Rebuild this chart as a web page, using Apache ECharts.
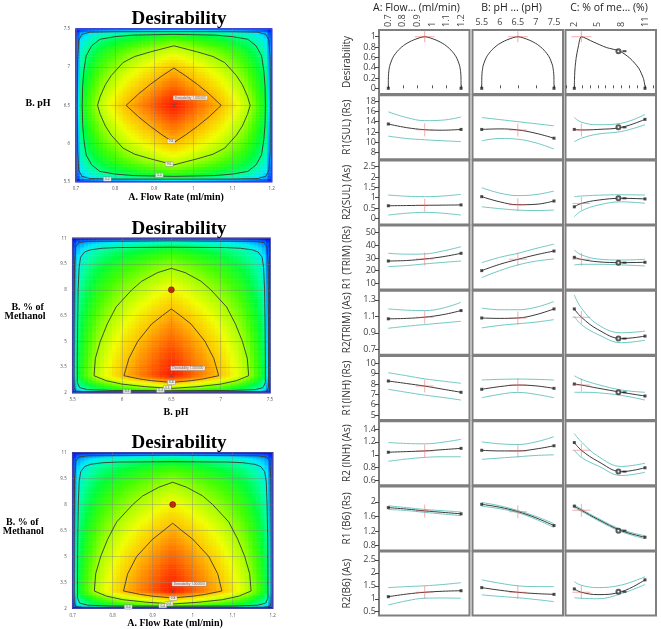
<!DOCTYPE html>
<html><head><meta charset="utf-8">
<script src="https://cdn.jsdelivr.net/npm/echarts@6/dist/echarts.min.js"></script>
<style>html,body{margin:0;padding:0;background:#fff}#c{width:661px;height:629px}</style>
</head><body><div id="c"></div>
<script>
// ================= DATA =================
// --- contour panels: sampled desirability profiles (cell centres) ---
const flowCells = [0.705,0.715,0.725,0.735,0.745,0.755,0.765,0.775,0.785,0.795,0.805,0.815,0.825,0.835,0.845,0.855,0.865,0.875,0.885,0.895,0.905,0.915,0.925,0.935,0.945,0.955,0.965,0.975,0.985,0.995,1.005,1.015,1.025,1.035,1.045,1.055,1.065,1.075,1.085,1.095,1.105,1.115,1.125,1.135,1.145,1.155,1.165,1.175,1.185,1.195];
const flowD = [0.20,0.39,0.46,0.515,0.56,0.60,0.64,0.67,0.70,0.72,0.75,0.77,0.795,0.815,0.835,0.85,0.87,0.89,0.90,0.92,0.94,0.95,0.97,0.98,0.995,0.995,0.98,0.97,0.95,0.94,0.92,0.90,0.89,0.87,0.85,0.835,0.815,0.795,0.77,0.75,0.72,0.70,0.67,0.64,0.60,0.56,0.515,0.46,0.39,0.20];
const phCells = [5.52,5.56,5.60,5.64,5.68,5.72,5.76,5.80,5.84,5.88,5.92,5.96,6.00,6.04,6.08,6.12,6.16,6.20,6.24,6.28,6.32,6.36,6.40,6.44,6.48,6.52,6.56,6.60,6.64,6.68,6.72,6.76,6.80,6.84,6.88,6.92,6.96,7.00,7.04,7.08,7.12,7.16,7.20,7.24,7.28,7.32,7.36,7.40,7.44,7.48];
const phD = [0.20,0.39,0.46,0.515,0.56,0.60,0.64,0.67,0.70,0.72,0.75,0.77,0.795,0.815,0.835,0.85,0.87,0.89,0.90,0.92,0.94,0.95,0.97,0.98,0.995,0.995,0.98,0.97,0.95,0.94,0.92,0.90,0.89,0.87,0.85,0.835,0.815,0.795,0.77,0.75,0.72,0.70,0.67,0.64,0.60,0.56,0.515,0.46,0.39,0.20];
const methCells = [2.05,2.15,2.25,2.35,2.45,2.55,2.65,2.75,2.85,2.95,3.05,3.15,3.25,3.35,3.45,3.55,3.65,3.75,3.85,3.95,4.05,4.15,4.25,4.35,4.45,4.55,4.65,4.75,4.85,4.95,5.05,5.15,5.25,5.35,5.45,5.55,5.65,5.75,5.85,5.95,6.05,6.15,6.25,6.35,6.45,6.55,6.65,6.75,6.85,6.95,7.05,7.15,7.25,7.35,7.45,7.55,7.65,7.75,7.85,7.95,8.05,8.15,8.25,8.35,8.45,8.55,8.65,8.75,8.85,8.95,9.05,9.15,9.25,9.35,9.45,9.55,9.65,9.75,9.85,9.95,10.05,10.15,10.25,10.35,10.45,10.55,10.65,10.75,10.85,10.95];
const methD = [0.15,0.48,0.60,0.665,0.73,0.78,0.83,0.885,0.935,0.98,
 0.998,0.995,0.992,0.988,0.985,0.981,0.977,0.974,0.970,0.966,
 0.962,0.957,0.953,0.948,0.944,0.939,0.934,0.929,0.924,0.919,
 0.914,0.909,0.903,0.898,0.892,0.886,0.880,0.874,0.868,0.862,
 0.856,0.850,0.843,0.837,0.830,0.823,0.816,0.809,0.802,0.795,
 0.787,0.780,0.772,0.765,0.757,0.749,0.741,0.733,0.725,0.717,
 0.709,0.700,0.692,0.683,0.674,0.665,0.656,0.647,0.638,0.629,
 0.619,0.610,0.600,0.588,0.576,0.563,0.550,0.536,0.522,0.508,
 0.492,0.473,0.452,0.428,0.404,0.37,0.33,0.27,0.20,0.09];

// contour lines (levels 0.8, 0.6, 0.4, 0.2)
const c1_08 = [[0.828,6.5],[0.86,6.65],[0.89,6.775],[0.92,6.887],[0.95,6.988],[0.98,6.887],[1.01,6.775],[1.04,6.65],[1.071,6.5],[1.04,6.35],[1.01,6.225],[0.98,6.113],[0.95,6.012],[0.92,6.113],[0.89,6.225],[0.86,6.35],[0.828,6.5]];
const c1_06 = [[0.755,6.5],[0.762,6.62],[0.775,6.77],[0.79,6.89],[0.82,7.06],[0.85,7.14],[0.89,7.2],[0.95,7.28],[1.01,7.2],[1.05,7.14],[1.08,7.06],[1.11,6.89],[1.125,6.77],[1.138,6.62],[1.145,6.5],[1.138,6.38],[1.125,6.23],[1.11,6.11],[1.08,5.94],[1.05,5.86],[1.01,5.8],[0.95,5.72],[0.89,5.8],[0.85,5.86],[0.82,5.94],[0.79,6.11],[0.775,6.23],[0.762,6.38],[0.755,6.5]];
const c1_04 = [[0.716,6.5],[0.717,6.75],[0.72,6.95],[0.726,7.15],[0.74,7.28],[0.761,7.365],[0.8,7.40],[0.846,7.42],[0.95,7.43],[1.054,7.42],[1.1,7.40],[1.139,7.365],[1.16,7.28],[1.174,7.15],[1.18,6.95],[1.183,6.75],[1.184,6.5],[1.183,6.25],[1.18,6.05],[1.174,5.85],[1.16,5.72],[1.139,5.635],[1.1,5.60],[1.054,5.58],[0.95,5.57],[0.846,5.58],[0.8,5.60],[0.761,5.635],[0.74,5.72],[0.726,5.85],[0.72,6.05],[0.717,6.25],[0.716,6.5]];
const c1_02 = [[0.7035,6.5],[0.704,7.1],[0.707,7.35],[0.715,7.43],[0.735,7.458],[0.8,7.465],[0.95,7.467],[1.1,7.465],[1.165,7.458],[1.185,7.43],[1.193,7.35],[1.196,7.1],[1.1965,6.5],[1.196,5.9],[1.193,5.65],[1.185,5.57],[1.165,5.542],[1.1,5.535],[0.95,5.533],[0.8,5.535],[0.735,5.542],[0.715,5.57],[0.707,5.65],[0.704,5.9],[0.7035,6.5]];
const c2_08 = [[6.02,2.99],[6.07,4.0],[6.16,5.0],[6.3,6.0],[6.41,6.5],[6.5,6.88],[6.59,6.5],[6.7,6.0],[6.84,5.0],[6.93,4.0],[6.98,2.99],[6.82,2.8],[6.7,2.7],[6.5,2.6],[6.3,2.7],[6.18,2.8],[6.02,2.99]];
const c2_06 = [[5.716,2.99],[5.73,4.0],[5.78,5.0],[5.85,6.0],[5.94,7.0],[6.1,8.0],[6.2,8.5],[6.36,9.0],[6.5,9.25],[6.64,9.0],[6.8,8.5],[6.9,8.0],[7.06,7.0],[7.15,6.0],[7.22,5.0],[7.27,4.0],[7.284,2.99],[7.16,2.7],[7.0,2.5],[6.76,2.35],[6.5,2.25],[6.24,2.35],[6.0,2.5],[5.84,2.7],[5.716,2.99]];
const c2_04 = [[5.547,2.6],[5.547,4.0],[5.55,6.0],[5.555,8.0],[5.565,9.3],[5.58,9.9],[5.62,10.2],[5.68,10.33],[5.8,10.42],[5.95,10.46],[6.5,10.48],[7.05,10.46],[7.2,10.42],[7.32,10.33],[7.38,10.2],[7.42,9.9],[7.435,9.3],[7.445,8.0],[7.45,6.0],[7.453,4.0],[7.453,2.6],[7.43,2.3],[7.35,2.18],[7.1,2.13],[6.5,2.12],[5.9,2.13],[5.65,2.18],[5.57,2.3],[5.547,2.6]];
const c2_02 = [[5.515,2.3],[5.515,6.0],[5.518,9.5],[5.53,10.5],[5.56,10.75],[5.65,10.82],[6.5,10.85],[7.35,10.82],[7.44,10.75],[7.47,10.5],[7.482,9.5],[7.485,6.0],[7.485,2.3],[7.47,2.1],[7.4,2.06],[6.5,2.05],[5.6,2.06],[5.53,2.1],[5.515,2.3]];
const c3_08 = [[0.827,3.0],[0.8375,4.0],[0.86,5.0],[0.9,6.0],[0.9275,6.5],[0.95,6.92],[0.9725,6.5],[1.0,6.0],[1.04,5.0],[1.0625,4.0],[1.073,3.0],[1.03,2.8],[1.0,2.7],[0.95,2.6],[0.9,2.7],[0.87,2.8],[0.827,3.0]];
const c3_06 = [[0.754,3.0],[0.7575,4.0],[0.77,5.0],[0.7875,6.0],[0.81,7.0],[0.85,8.0],[0.875,8.5],[0.915,9.0],[0.95,9.29],[0.985,9.0],[1.025,8.5],[1.05,8.0],[1.09,7.0],[1.1125,6.0],[1.13,5.0],[1.1425,4.0],[1.146,3.0],[1.115,2.7],[1.075,2.5],[1.015,2.35],[0.95,2.25],[0.885,2.35],[0.825,2.5],[0.785,2.7],[0.754,3.0]];
const c3_04 = [[0.712,2.6],[0.712,4.0],[0.7125,6.0],[0.714,8.0],[0.716,9.3],[0.72,9.9],[0.73,10.2],[0.745,10.33],[0.775,10.42],[0.8125,10.46],[0.95,10.48],[1.0875,10.46],[1.125,10.42],[1.155,10.33],[1.17,10.2],[1.18,9.9],[1.184,9.3],[1.186,8.0],[1.1875,6.0],[1.188,4.0],[1.188,2.6],[1.1825,2.3],[1.1625,2.18],[1.1,2.13],[0.95,2.12],[0.8,2.13],[0.7375,2.18],[0.7175,2.3],[0.712,2.6]];
const c3_02 = [[0.704,2.3],[0.704,6.0],[0.7045,9.5],[0.7075,10.5],[0.715,10.75],[0.7375,10.82],[0.95,10.85],[1.1625,10.82],[1.185,10.75],[1.1925,10.5],[1.1955,9.5],[1.196,6.0],[1.196,2.3],[1.1925,2.1],[1.175,2.06],[0.95,2.05],[0.725,2.06],[0.7075,2.1],[0.704,2.3]];

const p1Labels = [[0.943,6.03,'0.8'],[0.938,5.73,'0.6'],[0.913,5.585,'0.4'],[0.78,5.535,'0.2']];
const p2Labels = [[6.5,2.6,'0.8'],[6.46,2.29,'0.6'],[6.39,2.14,'0.4'],[6.05,2.07,'0.2']];
const p3Labels = [[0.951,2.58,'0.8'],[0.941,2.27,'0.6'],[0.925,2.15,'0.4'],[0.839,2.08,'0.2']];
const p1Peak = [0.95,6.5], p2Peak = [6.5,2.99], p3Peak = [0.95,2.97];
const p2Red = [6.5,8.0], p3Red = [0.95,8.0];
const peakText = 'Desirability 1.000000';

const flowTicks = [0.7,1.2,0.1], phTicks = [5.5,7.5,0.5], methTicks = [2,11,1.5];

// --- prediction profiler ---
const colHeaders = ['A: Flow... (ml/min)','B: pH ... (pH)','C: % of me... (%)'];
const rowNames = ['Desirability','R1(SUL) (Rs)','R2(SUL) (As)','R1 (TRIM) (Rs)','R2(TRIM) (As)','R1(INH) (Rs)','R2 (INH) (As)','R1 (B6) (Rs)','R2(B6) (As)'];
const xTickA = [0.7,0.8,0.9,1,1.1,1.2];
const xTickB = [5.5,6,6.5,7,7.5];
const xTickC = [1,2,3,4,5,6,7,8,9,10,11,12];
const xLabelC = [2,5,8,11];
const current = [0.95, 6.5, 2.9];
const colX = [[0.7,0.825,0.95,1.075,1.2],[5.5,6.0,6.5,7.0,7.5],[2,2.9,5,8,11]];

const desA = [[0.7,0],[0.7005,0.2],[0.703,0.32],[0.711,0.45],[0.734,0.61],[0.769,0.74],[0.815,0.85],[0.872,0.935],[0.95,1.0],[1.028,0.935],[1.085,0.85],[1.131,0.74],[1.166,0.61],[1.189,0.45],[1.197,0.32],[1.1995,0.2],[1.2,0]];
const desB = [[5.5,0],[5.502,0.2],[5.512,0.32],[5.544,0.45],[5.636,0.61],[5.776,0.74],[5.96,0.85],[6.188,0.935],[6.5,1],[6.812,0.935],[7.04,0.85],[7.224,0.74],[7.364,0.61],[7.456,0.45],[7.488,0.32],[7.498,0.2],[7.5,0]];
const desC = [[2,0],[2.03,0.2],[2.1,0.4],[2.25,0.6],[2.5,0.8],[2.9,1.0],[4.4,0.9],[6.1,0.79],[7.8,0.72],[9.1,0.58],[10.2,0.39],[10.8,0.19],[10.95,0.08],[11,0]];
const desMarkC = 0.72;

const r1sulFit = [[13.55,12.85,12.45,12.35,12.5],[12.5,12.6,12.4,11.75,10.8],[12.5,12.4,12.5,12.9,14.45]];
const r1sulHi  = [[15.9,14.8,14.2,14.3,14.9],[14.8,14.4,14.0,13.6,13.2],[14.8,13.9,13.4,13.7,15.4]];
const r1sulLo  = [[11.2,10.75,10.5,10.3,10.15],[10.3,10.75,10.6,9.9,8.7],[10.1,10.8,11.6,12.1,13.4]];
const r2sulFit = [[0.61,0.62,0.63,0.64,0.65],[1.05,0.8,0.66,0.68,0.84],[0.56,0.72,0.88,0.97,0.94]];
const r2sulHi  = [[1.13,1.07,1.05,1.08,1.16],[1.48,1.22,1.1,1.15,1.32],[1.05,1.08,1.12,1.14,1.13]];
const r2sulLo  = [[0.16,0.25,0.29,0.25,0.16],[0.56,0.47,0.4,0.38,0.4],[0.08,0.36,0.64,0.8,0.73]];
const r1trimFit = [[27.6,28.0,29.2,31.0,33.7],[20.0,25.0,28.9,32.5,35.5],[30.5,28.9,27.0,26.3,26.6]];
const r1trimHi  = [[33.7,33.0,33.2,35.5,38.9],[26.3,30.5,33.7,37.5,41.0],[36.3,32.5,29.2,28.4,28.9]];
const r1trimLo  = [[23.2,24.0,25.3,26.5,27.6],[14.5,20.0,24.5,27.5,29.2],[24.5,25.0,25.0,24.5,23.7]];
const r2trimFit = [[1.07,1.075,1.09,1.12,1.17],[1.08,1.075,1.08,1.12,1.19],[1.19,1.09,0.94,0.83,0.86]];
const r2trimHi  = [[1.19,1.175,1.17,1.2,1.27],[1.2,1.18,1.18,1.21,1.28],[1.36,1.2,1.0,0.9,0.92]];
const r2trimLo  = [[0.955,0.98,1.0,1.02,1.04],[0.96,0.99,1.01,1.03,1.06],[1.1,1.0,0.88,0.78,0.81]];
const r1inhFit = [[8.29,8.05,7.8,7.5,7.2],[7.49,7.75,7.9,7.82,7.58],[8.0,7.9,7.6,7.2,6.84]];
const r1inhHi  = [[9.1,8.8,8.5,8.28,8.07],[8.39,8.45,8.48,8.45,8.39],[8.8,8.45,7.95,7.42,7.2]];
const r1inhLo  = [[7.49,7.2,6.93,6.7,6.45],[6.67,7.0,7.19,7.0,6.67],[7.2,7.2,7.15,6.9,6.45]];
const r2inhFit = [[1.04,1.05,1.06,1.08,1.1],[1.07,1.06,1.06,1.09,1.14],[1.19,1.07,0.9,0.74,0.8]];
const r2inhHi  = [[1.19,1.175,1.17,1.195,1.24],[1.2,1.17,1.16,1.2,1.28],[1.33,1.2,0.98,0.82,0.87]];
const r2inhLo  = [[0.9,0.935,0.96,0.97,0.97],[0.93,0.95,0.97,0.99,1.0],[1.07,0.96,0.83,0.68,0.73]];
const r1b6Fit = [[1.84,1.8,1.75,1.71,1.67],[1.93,1.85,1.73,1.56,1.35],[1.88,1.77,1.52,1.21,1.03]];
const r1b6Hi  = [[1.89,1.84,1.79,1.755,1.72],[1.98,1.89,1.76,1.6,1.4],[1.92,1.8,1.55,1.24,1.07]];
const r1b6Lo  = [[1.79,1.76,1.71,1.665,1.62],[1.88,1.81,1.7,1.52,1.3],[1.84,1.74,1.49,1.18,0.99]];
const r2b6Fit = [[1.08,1.18,1.25,1.29,1.31],[1.43,1.33,1.25,1.2,1.17],[1.38,1.25,1.16,1.27,1.73]];
const r2b6Hi  = [[1.43,1.47,1.5,1.55,1.62],[1.73,1.6,1.5,1.47,1.47],[1.66,1.52,1.43,1.53,1.85]];
const r2b6Lo  = [[0.76,0.92,1.02,1.03,1.02],[1.15,1.09,1.04,0.97,0.89],[1.04,1.02,1.0,1.2,1.55]];

const yTicks = [[0,0.2,0.4,0.6,0.8,1],[8,10,12,14,16,18],[0,0.5,1,1.5,2,2.5],[10,20,30,40,50],[0.7,0.9,1.1,1.3],[5,6,7,8,9,10],[0.6,0.8,1,1.2,1.4],[0.8,1.2,1.6,2],[0.5,1,1.5,2,2.5]];

// ================= LAYOUT / STYLE =================
const yRange = [[-0.11,1.13],[6.74,19.12],[-0.29,2.80],[5.0,55.6],[0.633,1.41],[4.52,10.71],[0.53,1.52],[0.67,2.42],[0.35,2.82]];
const xRange = [[0.636,1.258],[5.245,7.749],[0.88,12.4]];
const profLeft = [379, 472.5, 565.5], profW = 90.5, profTop0 = 30, profPitch = 65.2, profH = 64;
const CYAN = '#72c9c4', BLACK = '#3a3a3a', CROSS = 'rgba(238,85,85,0.6)';
const serifFont = 'Liberation Serif', sansFont = 'Open Sans';
const heatColors = ['#0000f0','#0070ff','#00e8ff','#00ffa0','#00ff38','#40ff00','#a0ff00','#f0ff00','#ffc000','#ff7000','#ff1800'];

const grid = [], xAxis = [], yAxis = [], series = [], graphic = [];
const heatIdx = [];
const fmt = v => String(Math.round(v * 1000) / 1000);

// ---------- contour panels ----------
const panels = [
  {box:[76,29,195.7,152.7], xc:flowCells, yc:phCells, xd:flowD, yd:phD, xt:flowTicks, yt:phTicks, cont:[c1_08,c1_06,c1_04,c1_02], labels:p1Labels, peak:p1Peak, red:null},
  {box:[72.7,238.3,197.3,154.4], xc:phCells, yc:methCells, xd:phD, yd:methD, xt:phTicks, yt:methTicks, cont:[c2_08,c2_06,c2_04,c2_02], labels:p2Labels, peak:p2Peak, red:p2Red},
  {box:[72.7,452.7,200,155.6], xc:flowCells, yc:methCells, xd:flowD, yd:methD, xt:flowTicks, yt:methTicks, cont:[c3_08,c3_06,c3_04,c3_02], labels:p3Labels, peak:p3Peak, red:p3Red}
];
panels.forEach(p => {
  const gi = grid.length;
  grid.push({left:p.box[0], top:p.box[1], width:p.box[2], height:p.box[3], show:true, borderColor:'#1616c8', borderWidth:1.5, backgroundColor:'transparent'});
  const xc = xAxis.length;
  xAxis.push({type:'category', gridIndex:gi, position:'top', data:p.xc.map(String), show:false});
  const xv = xAxis.length;
  xAxis.push({type:'value', gridIndex:gi, position:'bottom', min:p.xt[0], max:p.xt[1], interval:p.xt[2], z:3,
    axisLine:{show:false}, axisTick:{show:false},
    splitLine:{show:true, lineStyle:{color:'rgba(130,130,130,0.5)', width:0.8}},
    axisLabel:{fontSize:4.5, color:'#555', margin:5, formatter:fmt}});
  const yc = yAxis.length;
  yAxis.push({type:'category', gridIndex:gi, position:'right', data:p.yc.map(String), show:false});
  const yv = yAxis.length;
  yAxis.push({type:'value', gridIndex:gi, position:'left', min:p.yt[0], max:p.yt[1], interval:p.yt[2], z:3,
    axisLine:{show:false}, axisTick:{show:false},
    splitLine:{show:true, lineStyle:{color:'rgba(130,130,130,0.5)', width:0.8}},
    axisLabel:{fontSize:4.5, color:'#555', margin:6, formatter:fmt}});
  const cells = [];
  for (let i = 0; i < p.xd.length; i++) for (let j = 0; j < p.yd.length; j++) cells.push([i, j, p.xd[i] * p.yd[j]]);
  heatIdx.push(series.length);
  series.push({type:'heatmap', xAxisIndex:xc, yAxisIndex:yc, data:cells, z:-1, progressive:0, silent:true, emphasis:{disabled:true}});
  p.cont.forEach(c => series.push({type:'line', xAxisIndex:xv, yAxisIndex:yv, data:c, symbol:'none', silent:true, z:4,
    lineStyle:{color:'#3b3b2c', width:0.9}}));
  series.push({type:'scatter', xAxisIndex:xv, yAxisIndex:yv, z:6, silent:true, symbolSize:1, itemStyle:{color:'rgba(0,0,0,0)'},
    data:p.labels.map(l => ({value:[l[0], l[1]], label:{formatter:l[2]}})),
    label:{show:true, position:'inside', fontSize:3.2, color:'#333', backgroundColor:'#fff', borderColor:'#888', borderWidth:0.5, padding:[0.5,1.5]}});
  series.push({type:'scatter', xAxisIndex:xv, yAxisIndex:yv, z:6, silent:true, symbol:'circle', symbolSize:3,
    itemStyle:{color:'#6a5050'}, data:[p.peak],
    label:{show:true, formatter:peakText, position:[1,-8], fontSize:3.2, color:'#333', backgroundColor:'#fff', borderColor:'#888', borderWidth:0.5, padding:[0.5,1.5]}});
  if (p.red) series.push({type:'scatter', xAxisIndex:xv, yAxisIndex:yv, z:6, silent:true, symbol:'circle', symbolSize:6,
    itemStyle:{color:'#b30000', borderColor:'#5a0000', borderWidth:0.6}, data:[p.red]});
});

// titles and axis names of contour panels
function txt(x, y, t, size, weight, family, color, align) {
  graphic.push({type:'text', x:x, y:y, silent:true, style:{text:t, fontSize:size, fontWeight:weight, fontFamily:family,
    fill:color || '#000', align:align || 'center', textAlign:align || 'center', verticalAlign:'middle', textVerticalAlign:'middle'}});
}
[19, 229, 443].forEach(y => txt(179, y, 'Desirability', 19, 'bold', serifFont));
txt(38, 103, 'B. pH', 10, 'bold', serifFont);
txt(176, 197, 'A. Flow Rate (ml/min)', 10, 'bold', serifFont);
txt(27.7, 307.7, 'B. % of', 10, 'bold', serifFont);
txt(25, 316.7, 'Methanol', 10, 'bold', serifFont);
txt(176, 412, 'B. pH', 10, 'bold', serifFont);
txt(22.3, 522.7, 'B. % of', 10, 'bold', serifFont);
txt(23.3, 531.7, 'Methanol', 10, 'bold', serifFont);
txt(175, 623, 'A. Flow Rate (ml/min)', 10, 'bold', serifFont);

// ---------- prediction profiler ----------
txt(416.5, 8, colHeaders[0], 10.5, 'normal', sansFont, '#222');
txt(511.5, 8, colHeaders[1], 10.5, 'normal', sansFont, '#222');
txt(609, 8, colHeaders[2], 10.5, 'normal', sansFont, '#222');

const rowsFit = [null, r1sulFit, r2sulFit, r1trimFit, r2trimFit, r1inhFit, r2inhFit, r1b6Fit, r2b6Fit];
const rowsHi  = [null, r1sulHi, r2sulHi, r1trimHi, r2trimHi, r1inhHi, r2inhHi, r1b6Hi, r2b6Hi];
const rowsLo  = [null, r1sulLo, r2sulLo, r1trimLo, r2trimLo, r1inhLo, r2inhLo, r1b6Lo, r2b6Lo];
const desCurves = [desA, desB, desC];
const xTicks = [xTickA, xTickB, xTickC];
const xLabels = [xTickA, xTickB, xLabelC];
const xRot = [90, 0, 90];
const curIdx = [2, 2, 1];

for (let r = 0; r < 9; r++) {
  for (let c = 0; c < 3; c++) {
    const gi = grid.length;
    grid.push({left:profLeft[c], top:profTop0 + profPitch * r, width:profW, height:profH, show:true,
      borderColor:'#7f7f7f', borderWidth:2, backgroundColor:'#fff'});
    const xi = xAxis.length;
    if (r === 0) {
      xAxis.push({type:'value', gridIndex:gi, min:xRange[c][0], max:xRange[c][1], position:'top',
        axisLine:{show:false}, splitLine:{show:false},
        axisTick:{show:true, length:3, customValues:xTicks[c], lineStyle:{color:'#555'}},
        axisLabel:{show:true, customValues:xLabels[c], rotate:xRot[c], fontSize:9, color:'#444', margin:3, fontFamily:sansFont, formatter:fmt}});
    } else {
      xAxis.push({type:'value', gridIndex:gi, min:xRange[c][0], max:xRange[c][1], show:false, splitLine:{show:false}});
    }
    const yi = yAxis.length;
    if (c === 0) {
      yAxis.push({type:'value', gridIndex:gi, min:yRange[r][0], max:yRange[r][1],
        axisLine:{show:false}, splitLine:{show:false},
        axisTick:{show:true, length:4, customValues:yTicks[r], lineStyle:{color:'#444'}},
        axisLabel:{customValues:yTicks[r], fontSize:9, color:'#444', margin:3, fontFamily:sansFont, formatter:fmt},
        name:rowNames[r], nameLocation:'middle', nameRotate:90, nameGap:27,
        nameTextStyle:{fontSize:10, color:'#333', fontFamily:sansFont}});
    } else {
      yAxis.push({type:'value', gridIndex:gi, min:yRange[r][0], max:yRange[r][1], show:false, splitLine:{show:false}});
    }
    let fit, crossVal, markVal;
    if (r === 0) {
      fit = desCurves[c];
      crossVal = 1;
      markVal = desMarkC;
    } else {
      const xs = colX[c];
      fit = xs.map((x, k) => [x, rowsFit[r][c][k]]);
      series.push({type:'line', xAxisIndex:xi, yAxisIndex:yi, data:xs.map((x, k) => [x, rowsHi[r][c][k]]), symbol:'none', smooth:0.4, silent:true, z:3, lineStyle:{color:CYAN, width:1}});
      series.push({type:'line', xAxisIndex:xi, yAxisIndex:yi, data:xs.map((x, k) => [x, rowsLo[r][c][k]]), symbol:'none', smooth:0.4, silent:true, z:3, lineStyle:{color:CYAN, width:1}});
      crossVal = rowsFit[r][c][curIdx[c]];
      markVal = rowsFit[r][c][3];
    }
    series.push({type:'line', xAxisIndex:xi, yAxisIndex:yi, data:fit, symbol:'none', smooth:r === 0 ? 0.25 : 0.4, silent:true, z:4, lineStyle:{color:BLACK, width:1}});
    series.push({type:'scatter', xAxisIndex:xi, yAxisIndex:yi, data:[fit[0], fit[fit.length - 1]], symbol:'rect', symbolSize:3, silent:true, z:5, itemStyle:{color:'#222'}});
    series.push({type:'scatter', xAxisIndex:xi, yAxisIndex:yi, data:[[current[c], crossVal]], silent:true, z:6,
      symbol:'path://M0,6L18,6L18,7L0,7Z M8.5,0L9.5,0L9.5,13L8.5,13Z', symbolSize: r === 0 ? [20, 11] : [18, 13],
      itemStyle:{color:CROSS}});
    if (c === 2) {
      series.push({type:'scatter', xAxisIndex:xi, yAxisIndex:yi, data:[[colX[2][3], markVal]], silent:true, z:6,
        symbol:'emptyCircle', symbolSize:4, symbolOffset:[-3, 0], itemStyle:{color:'#333', borderWidth:0.8}});
      series.push({type:'scatter', xAxisIndex:xi, yAxisIndex:yi, data:[[colX[2][3], markVal]], silent:true, z:6,
        symbol:'rect', symbolSize:[4, 2], symbolOffset:[3, 0], itemStyle:{color:'#222'}});
    }
  }
}

const option = {
  animation:false,
  backgroundColor:'#fff',
  textStyle:{fontFamily:sansFont},
  grid:grid, xAxis:xAxis, yAxis:yAxis, series:series, graphic:graphic,
  visualMap:{type:'continuous', min:0, max:1, seriesIndex:heatIdx, show:false, inRange:{color:heatColors}}
};
const chart = echarts.init(document.getElementById('c'));
chart.setOption(option);
</script>
</body></html>
